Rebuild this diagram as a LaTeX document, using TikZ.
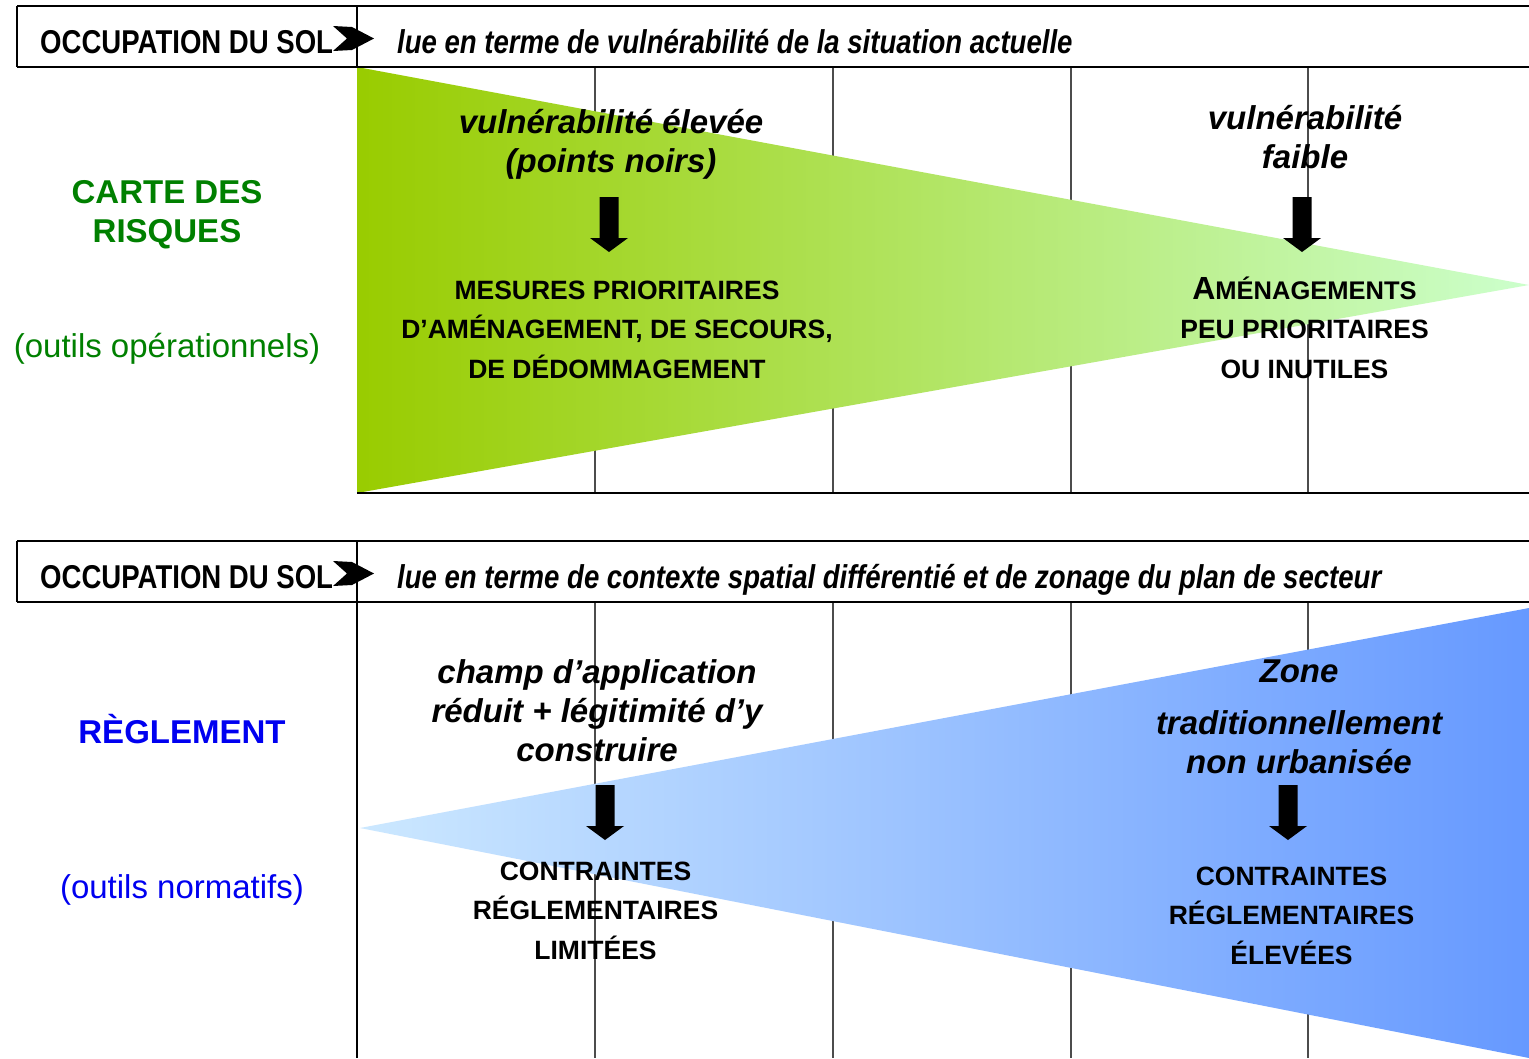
\documentclass[tikz,border=0pt]{standalone}
\usepackage{fontspec}
\setmainfont{Liberation Sans}
\newfontfamily\narrowfont{Liberation Sans}[FakeStretch=0.835]

\definecolor{riskgreen}{RGB}{0,128,0}
\definecolor{ruleblue}{RGB}{0,0,240}
\definecolor{greenA}{RGB}{153,204,0}
\definecolor{greenB}{RGB}{204,255,204}
\definecolor{blueA}{RGB}{204,232,255}
\definecolor{blueB}{RGB}{102,153,255}

% downward block arrow: centre x, top y
\newcommand{\blockdown}[2]{%
  \fill[black] (#1-9.5,#2) -- (#1+9.5,#2) -- (#1+9.5,#2+41) -- (#1+19,#2+41)
    -- (#1,#2+55) -- (#1-19,#2+41) -- (#1-9.5,#2+41) -- cycle;}
% chevron placed after the header label: left x, baseline y
\newcommand{\chevron}[2]{%
  \fill[black] (#1,#2-27) -- (#1+19,#2-26) -- (#1+41,#2-14.5) -- (#1+19,#2-3)
    -- (#1,#2-2) -- (#1+14,#2-14.5) -- cycle;}

\begin{document}
\begin{tikzpicture}[x=1pt,y=-1pt,
  frame/.style={line width=2.5pt, black},
  gridline/.style={line width=1.5pt, black!70},
  headcap/.style={font=\narrowfont\bfseries\fontsize{33}{39}\selectfont, anchor=base west, inner sep=0pt},
  headital/.style={font=\narrowfont\bfseries\itshape\fontsize{33}{39}\selectfont, anchor=base west, inner sep=0pt},
  bigital/.style={font=\bfseries\itshape\fontsize{33}{39}\selectfont, align=center, anchor=base, inner sep=0pt},
  capsblock/.style={font=\bfseries\fontsize{26.5}{39.5}\selectfont, align=center, anchor=base, inner sep=0pt},
  sidetitle/.style={font=\bfseries\fontsize{33}{39}\selectfont, align=center, anchor=base, inner sep=0pt},
  sidenote/.style={font=\fontsize{33}{39}\selectfont, anchor=base, inner sep=0pt}
]
\useasboundingbox (0,0) rectangle (1529,1058);
\fill[white] (0,0) rectangle (1529,1058);

% column guides
\foreach \gx in {595,833,1071,1308} {
  \draw[gridline] (\gx,67) -- (\gx,493);
  \draw[gridline] (\gx,602) -- (\gx,1058);
}

% vulnerability wedge (narrowing to the right)
\shade[left color=greenA, right color=greenB] (357,67) -- (1529,285) -- (357,493) -- cycle;
% regulation wedge (widening to the right)
\shade[left color=blueA, right color=blueB] (360,828) -- (1529,608) -- (1529,1058) -- cycle;

% header frames and rules
\draw[frame] (17,6) -- (1529,6);
\draw[frame] (17,67) -- (1529,67);
\draw[frame] (17,6) -- (17,67);
\draw[frame] (357,6) -- (357,67);
\draw[frame] (357,493) -- (1529,493);

\draw[frame] (17,541) -- (1529,541);
\draw[frame] (17,602) -- (1529,602);
\draw[frame] (17,541) -- (17,602);
\draw[frame] (357,541) -- (357,1058);

% header texts
\node[headcap] (occ1) at (40,53) {OCCUPATION DU SOL};
\chevron{333}{53}
\node[headital] (lue1) at (397,53) {lue en terme de vulnérabilité de la situation actuelle};

\node[headcap] (occ2) at (40,588) {OCCUPATION DU SOL};
\chevron{333}{588}
\node[headital] (lue2) at (397,588) {lue en terme de contexte spatial différentié et de zonage du plan de secteur};

% side labels
\node[sidetitle, text=riskgreen] (carte) at (167,242) {CARTE DES\\RISQUES};
\node[sidenote, text=riskgreen] (opera) at (167,357) {(outils opérationnels)};
\node[sidetitle, text=ruleblue] (regl) at (182,743) {RÈGLEMENT};
\node[sidenote, text=ruleblue] (norma) at (182,898) {(outils normatifs)};

% upper section
\node[bigital] (vhigh) at (611,172) {vulnérabilité élevée\\(points noirs)};
\blockdown{609}{197}
\node[capsblock] (mesures) at (617,378) {MESURES PRIORITAIRES\\D’AMÉNAGEMENT, DE SECOURS,\\DE DÉDOMMAGEMENT};

\node[bigital] (vlow) at (1305,168) {vulnérabilité\\faible};
\blockdown{1302}{197}
\node[capsblock] (amen) at (1304.5,378) {{\fontsize{32}{39.5}\selectfont A}{\fontsize{25.5}{39.5}\selectfont MÉNAGEMENTS}\\PEU PRIORITAIRES\\OU INUTILES};

% lower section
\node[bigital] (champ) at (597,761) {champ d’application\\réduit + légitimité d’y\\construire};
\blockdown{605}{785}
\node[capsblock] (climit) at (595.5,959) {CONTRAINTES\\RÉGLEMENTAIRES\\LIMITÉES};

\node[bigital] (zone) at (1299,773) {Zone\\[13pt]traditionnellement\\non urbanisée};
\blockdown{1288}{785}
\node[capsblock] (chigh) at (1291.5,964) {CONTRAINTES\\RÉGLEMENTAIRES\\ÉLEVÉES};
\end{tikzpicture}
\end{document}
